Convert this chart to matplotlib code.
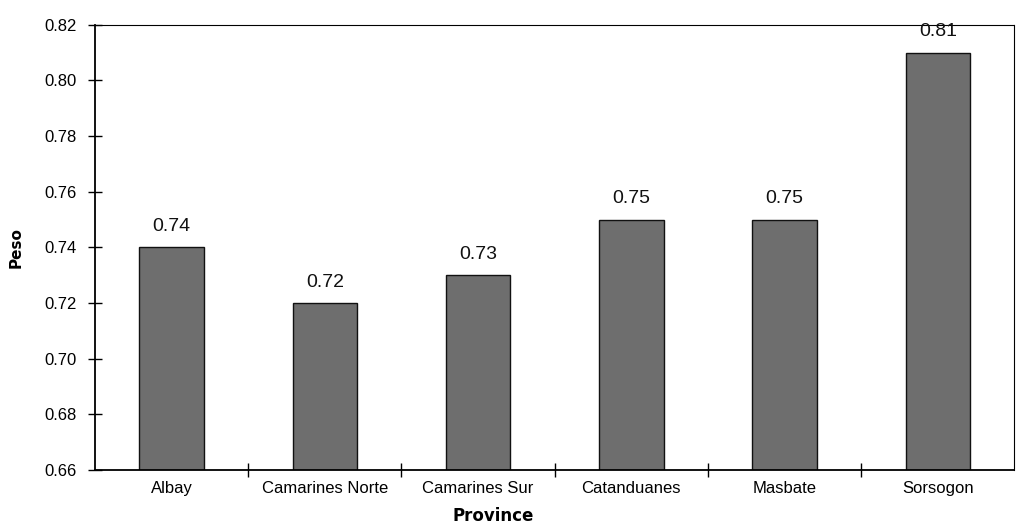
import numpy as np
import matplotlib
matplotlib.use("Agg")
import matplotlib.pyplot as plt

plt.rcParams['font.family'] = ['Liberation Sans', 'DejaVu Sans']

# data
provinces = ['Albay', 'Camarines Norte', 'Camarines Sur', 'Catanduanes', 'Masbate', 'Sorsogon']
peso = [0.74, 0.72, 0.73, 0.75, 0.75, 0.81]
value_labels = ['0.74', '0.72', '0.73', '0.75', '0.75', '0.81']
y_ticks = [0.66, 0.68, 0.70, 0.72, 0.74, 0.76, 0.78, 0.80, 0.82]

fig = plt.figure(figsize=(10.16, 5.27), dpi=100)
ax = fig.add_axes([0.0935, 0.108, 0.905, 0.845])

x = np.arange(len(provinces))
ax.bar(x, peso, width=0.42, color='#6e6e6e', edgecolor='#111111', linewidth=1.0)

for xi, v, lab in zip(x, peso, value_labels):
    ax.text(xi, v + 0.0045, lab, ha='center', va='bottom', fontsize=14, color='#111111')

ax.set_xlim(-0.5, len(provinces) - 0.5)
ax.set_ylim(0.66, 0.82)
ax.set_yticks(y_ticks)
ax.set_yticklabels(['%.2f' % t for t in y_ticks], fontsize=12)

# category labels in the middle, tick marks on the boundaries
ax.set_xticks(x)
ax.set_xticklabels(provinces, fontsize=12)
ax.tick_params(axis='x', which='major', length=0, pad=8)
ax.set_xticks(np.arange(0.5, len(provinces) - 0.5), minor=True)
ax.tick_params(axis='x', which='minor', direction='inout', length=10, width=1)
ax.tick_params(axis='y', direction='inout', length=10, width=1, pad=8)

ax.spines['left'].set_linewidth(1.3)
ax.spines['bottom'].set_linewidth(1.3)
for s in ['top', 'right']:
    ax.spines[s].set_linestyle((0, (1, 1)))
    ax.spines[s].set_linewidth(0.8)

ax.set_ylabel('Peso', fontsize=11, fontweight='bold', family='DejaVu Sans', va='center')
ax.yaxis.set_label_coords(-0.086, 0.5)
ax.set_xlabel('Province', fontsize=12, fontweight='bold', family='DejaVu Sans', va='center')
ax.xaxis.set_label_coords(0.433, -0.103)

fig.savefig('out.png', dpi=100)
